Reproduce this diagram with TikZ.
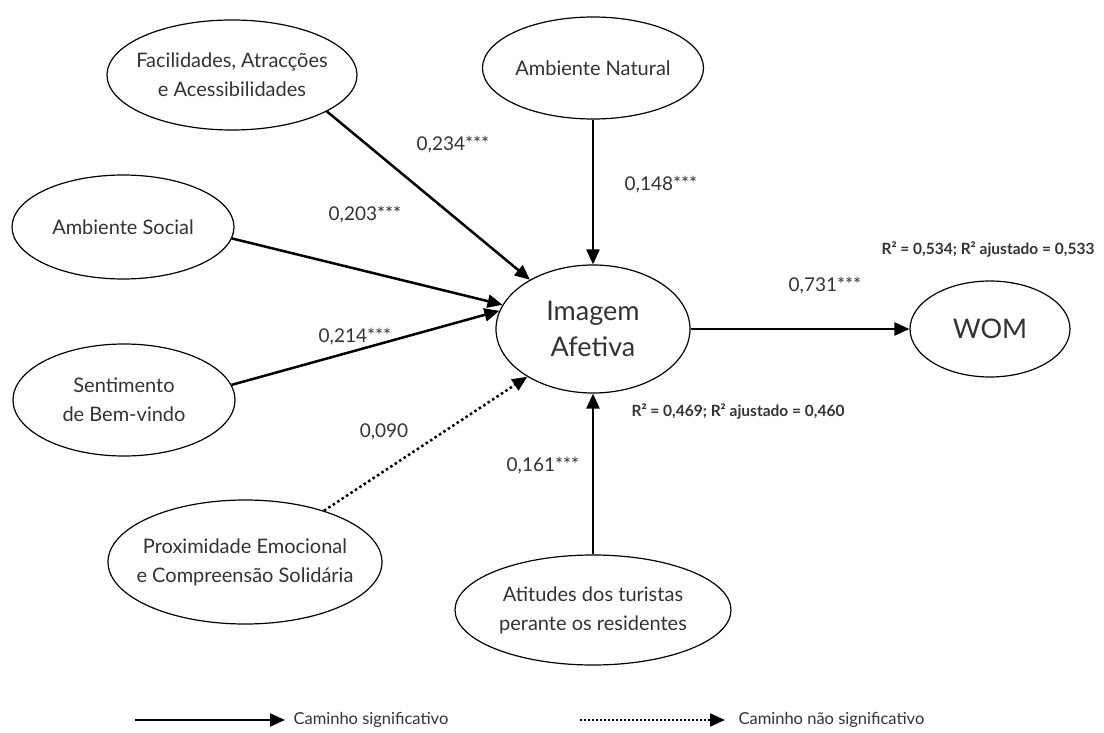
\documentclass[tikz,border=0pt]{standalone}
\usepackage{fontspec}
\setmainfont{Lato}
\usetikzlibrary{shapes.geometric,arrows.meta}
\definecolor{txt}{HTML}{333333}
\begin{document}
\begin{tikzpicture}[x=1pt,y=-1pt,
  lat/.style={draw=black, line width=1.2pt, ellipse, inner sep=0pt},
  lattext/.style={text=txt, align=center, inner sep=0pt, font=\fontsize{20}{29}\selectfont},
  bigtext/.style={lattext, font=\fontsize{27}{36}\selectfont},
  sigpath/.style={line width=2.5pt, -{Triangle[length=15pt,width=13pt]}},
  nspath/.style={sigpath, dash pattern=on 2.5pt off 2.8pt},
  coef/.style={text=txt, font=\fontsize{19}{22}\selectfont},
  rsq/.style={text=txt, font=\bfseries\fontsize{15.5}{18}\selectfont},
  leg/.style={text=txt, anchor=west, font=\fontsize{16.5}{19}\selectfont}]
\useasboundingbox[fill=white] (0,0) rectangle (1104,733);

% latent variables
\node[lat, minimum width=250pt, minimum height=110pt, label={[lattext]center:Facilidades, Atracções\\e Acessibilidades}] (fac) at (232,75) {};
\node[lat, minimum width=221pt, minimum height=102pt, label={[lattext]center:Ambiente Natural}] (nat) at (593,68) {};
\node[lat, minimum width=222pt, minimum height=104pt, label={[lattext]center:Ambiente Social}] (soc) at (123,227) {};
\node[lat, minimum width=222pt, minimum height=112pt, label={[lattext]center:Sentimento\\de Bem-vindo}] (sen) at (124,400) {};
\node[lat, minimum width=274pt, minimum height=124pt, label={[lattext]center:Proximidade Emocional\\e Compreensão Solidária}] (pro) at (245,562) {};
\node[lat, minimum width=276pt, minimum height=110pt, label={[lattext]center:Atitudes dos turistas\\perante os residentes}] (att) at (593,610) {};
\node[lat, minimum width=194pt, minimum height=128pt, label={[bigtext]center:Imagem\\Afetiva}] (img) at (593,329) {};
\node[lat, minimum width=160pt, minimum height=96pt, label={[bigtext]center:WOM}] (wom) at (990,329) {};

% paths
\draw[sigpath] (fac.-21) -- (img.142);
\draw[sigpath] (nat.south) -- (img.north);
\draw[sigpath] (soc.-6) -- (img.165);
\draw[sigpath] (sen.8) -- (img.169);
\draw[nspath] (pro.33) -- (img.216);
\draw[sigpath] (att.north) -- (img.south);
\draw[sigpath] (img.east) -- (wom.west);

% coefficients
\node[coef] (c1) at (453,145) {0,234***};
\node[coef] (c2) at (661,185) {0,148***};
\node[coef] (c3) at (365,215) {0,203***};
\node[coef] (c4) at (355,337) {0,214***};
\node[coef] (c5) at (384,432) {0,090};
\node[coef] (c6) at (543,466) {0,161***};
\node[coef] (c7) at (825,286) {0,731***};
\node[rsq] (r1) at (988,250) {R² = 0,534; R² ajustado = 0,533};
\node[rsq] (r2) at (738,412) {R² = 0,469; R² ajustado = 0,460};

% legend
\coordinate (l1a) at (135,720);
\coordinate (l1b) at (285,720);
\coordinate (l2a) at (580,720);
\coordinate (l2b) at (725,720);
\draw[sigpath, line width=2pt] (l1a) -- (l1b);
\draw[nspath, line width=2pt, dash pattern=on 2pt off 2pt] (l2a) -- (l2b);
\node[leg] (t1) at (290,720) {Caminho significativo};
\node[leg] (t2) at (735,720) {Caminho não significativo};
\end{tikzpicture}
\end{document}
